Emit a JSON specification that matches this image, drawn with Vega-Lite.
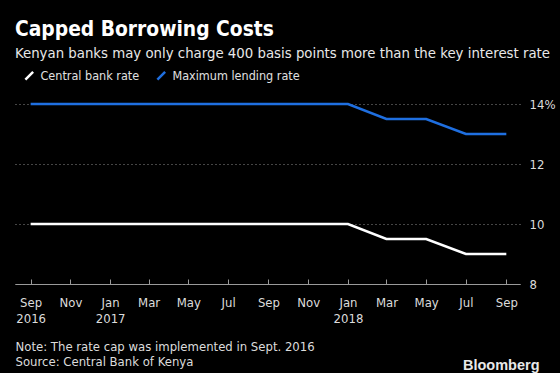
{
  "$schema": "https://vega.github.io/schema/vega-lite/v6.json",
  "width": 505,
  "height": 189,
  "autosize": {"type": "none"},
  "padding": {"left": 15, "top": 95, "right": 40, "bottom": 89},
  "background": "#000000",
  "title": {
    "text": "Capped Borrowing Costs",
    "subtitle": "Kenyan banks may only charge 400 basis points more than the key interest rate",
    "anchor": "start",
    "frame": "group",
    "orient": "top",
    "offset": 7,
    "font": "DejaVu Sans Condensed",
    "fontSize": 20.8,
    "fontWeight": "bold",
    "color": "#ffffff",
    "subtitleFont": "DejaVu Sans Condensed",
    "subtitleFontSize": 14.8,
    "subtitleColor": "#e8e8e8",
    "subtitlePadding": 5
  },
  "data": {
    "values": [
      {"date": "2016-09-01T00:00:00", "series": "Central bank rate", "rate": 10},
      {"date": "2016-11-01T00:00:00", "series": "Central bank rate", "rate": 10},
      {"date": "2017-01-01T00:00:00", "series": "Central bank rate", "rate": 10},
      {"date": "2017-03-01T00:00:00", "series": "Central bank rate", "rate": 10},
      {"date": "2017-05-01T00:00:00", "series": "Central bank rate", "rate": 10},
      {"date": "2017-07-01T00:00:00", "series": "Central bank rate", "rate": 10},
      {"date": "2017-09-01T00:00:00", "series": "Central bank rate", "rate": 10},
      {"date": "2017-11-01T00:00:00", "series": "Central bank rate", "rate": 10},
      {"date": "2018-01-01T00:00:00", "series": "Central bank rate", "rate": 10},
      {"date": "2018-03-01T00:00:00", "series": "Central bank rate", "rate": 9.5},
      {"date": "2018-05-01T00:00:00", "series": "Central bank rate", "rate": 9.5},
      {"date": "2018-07-01T00:00:00", "series": "Central bank rate", "rate": 9},
      {"date": "2018-09-01T00:00:00", "series": "Central bank rate", "rate": 9},
      {"date": "2016-09-01T00:00:00", "series": "Maximum lending rate", "rate": 14},
      {"date": "2016-11-01T00:00:00", "series": "Maximum lending rate", "rate": 14},
      {"date": "2017-01-01T00:00:00", "series": "Maximum lending rate", "rate": 14},
      {"date": "2017-03-01T00:00:00", "series": "Maximum lending rate", "rate": 14},
      {"date": "2017-05-01T00:00:00", "series": "Maximum lending rate", "rate": 14},
      {"date": "2017-07-01T00:00:00", "series": "Maximum lending rate", "rate": 14},
      {"date": "2017-09-01T00:00:00", "series": "Maximum lending rate", "rate": 14},
      {"date": "2017-11-01T00:00:00", "series": "Maximum lending rate", "rate": 14},
      {"date": "2018-01-01T00:00:00", "series": "Maximum lending rate", "rate": 14},
      {"date": "2018-03-01T00:00:00", "series": "Maximum lending rate", "rate": 13.5},
      {"date": "2018-05-01T00:00:00", "series": "Maximum lending rate", "rate": 13.5},
      {"date": "2018-07-01T00:00:00", "series": "Maximum lending rate", "rate": 13},
      {"date": "2018-09-01T00:00:00", "series": "Maximum lending rate", "rate": 13}
    ]
  },
  "mark": {"type": "line", "strokeWidth": 2.5, "interpolate": "linear"},
  "encoding": {
    "x": {
      "field": "date",
      "type": "temporal",
      "scale": {"domain": [{"year": 2016, "month": 8, "date": 8}, {"year": 2018, "month": 9, "date": 22}]},
      "axis": {
        "tickCount": {"interval": "month", "step": 2},
        "labelExpr": "(month(datum.value) == 0 || (year(datum.value) == 2016 && month(datum.value) == 8)) ? [timeFormat(datum.value, '%b'), timeFormat(datum.value, '%Y')] : timeFormat(datum.value, '%b')",
        "grid": false,
        "domainColor": "#9a9a9a",
        "tickColor": "#9a9a9a",
        "tickSize": -5,
        "labelPadding": 17,
        "labelBaseline": "top",
        "labelLineHeight": 16,
        "labelFont": "DejaVu Sans Condensed",
        "labelFontSize": 13,
        "labelColor": "#dcdcdc",
        "labelFlush": false,
        "title": ["Note: The rate cap was implemented in Sept. 2016", "Source: Central Bank of Kenya"],
        "titleAnchor": "start",
        "titleAlign": "left",
        "titleBaseline": "alphabetic",
        "titleX": 0,
        "titleY": 66,
        "titleLineHeight": 15,
        "titleFont": "DejaVu Sans Condensed",
        "titleFontSize": 13,
        "titleFontWeight": "normal",
        "titleColor": "#dcdcdc"
      }
    },
    "y": {
      "field": "rate",
      "type": "quantitative",
      "scale": {"domain": [8, 14.3], "nice": false, "zero": false},
      "axis": {
        "orient": "right",
        "values": [8, 10, 12, 14],
        "labelExpr": "datum.value == 14 ? '14%' : datum.label",
        "domain": false,
        "ticks": false,
        "labelPadding": 9,
        "labelFont": "DejaVu Sans Condensed",
        "labelFontSize": 13,
        "labelColor": "#dcdcdc",
        "grid": true,
        "gridColor": "#8a8a8a",
        "gridDash": [1, 3],
        "gridWidth": 1,
        "title": "Bloomberg",
        "titleAngle": 0,
        "titleAlign": "right",
        "titleBaseline": "alphabetic",
        "titleX": 19,
        "titleY": 274,
        "titleFont": "Liberation Sans",
        "titleFontSize": 14.5,
        "titleFontWeight": "bold",
        "titleColor": "#e8e8e8"
      }
    },
    "color": {
      "field": "series",
      "type": "nominal",
      "scale": {"domain": ["Central bank rate", "Maximum lending rate"], "range": ["#ffffff", "#1f6fe0"]},
      "legend": {
        "title": null,
        "orient": "none",
        "legendX": 8,
        "legendY": -26,
        "direction": "horizontal",
        "columns": 2,
        "symbolType": "M-1,1L1,-1",
        "symbolSize": 60,
        "symbolStrokeWidth": 2.5,
        "labelFont": "DejaVu Sans Condensed",
        "labelFontSize": 12.5,
        "labelColor": "#e0e0e0",
        "labelOffset": 5,
        "columnPadding": 12,
        "padding": 0
      }
    }
  },
  "config": {
    "view": {"stroke": null}
  }
}
